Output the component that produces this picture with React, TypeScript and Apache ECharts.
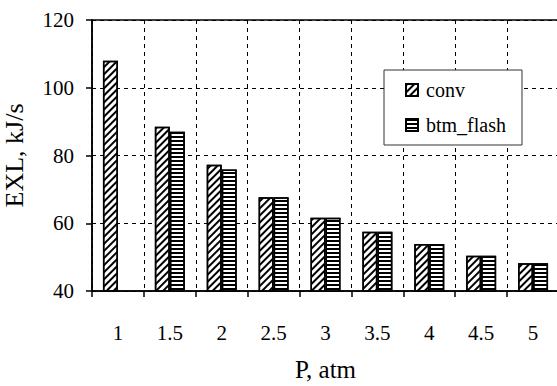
import React, { useEffect, useRef } from "react";
import * as echarts from "echarts";

const categories = ["1", "1.5", "2", "2.5", "3", "3.5", "4", "4.5", "5"];
const convValues = [108, 88.5, 77.3, 67.7, 61.6, 57.5, 53.9, 50.4, 48.2];
const btmFlashValues = [null, 87, 75.9, 67.7, 61.6, 57.5, 53.9, 50.4, 48.2];
const yTicks = { min: 40, max: 120, interval: 20 };

const FONT = "Liberation Serif, serif";

export default function App() {
  const ref = useRef<HTMLDivElement>(null);
  useEffect(() => {
    if (!ref.current) return;
    const chart = echarts.init(ref.current, undefined, { renderer: "svg" });
    const dashed = { show: true, lineStyle: { color: "#000", type: [4, 4] as any, width: 1 } };
    const lbl = { fontFamily: FONT, fontSize: 21, color: "#000" };
    chart.setOption({
      animation: false,
      backgroundColor: "#fff",
      textStyle: { fontFamily: FONT, color: "#000" },
      grid: {
        left: 92,
        top: 20,
        right: -2,
        bottom: 95,
        show: true,
        borderColor: "#000",
        borderWidth: 1.5,
        containLabel: false,
        outerBoundsMode: "none",
      },
      legend: {
        orient: "vertical",
        left: 384,
        top: 70,
        width: 137,
        height: 75,
        padding: [10, 16, 10, 21],
        itemGap: 15,
        itemWidth: 12,
        itemHeight: 12,
        borderColor: "#333",
        borderWidth: 1,
        backgroundColor: "#fff",
        icon: "rect",
        textStyle: { fontFamily: FONT, fontSize: 20, color: "#000", padding: [0, 0, 0, 3] },
        data: ["conv", "btm_flash"],
      },
      xAxis: {
        type: "category",
        data: categories,
        axisLine: { show: true, lineStyle: { color: "#000", width: 1.5 } },
        axisTick: { show: true, length: 6, alignWithLabel: false, lineStyle: { color: "#000", width: 1.5 } },
        axisLabel: { ...lbl, margin: 31 },
        splitLine: dashed,
        name: "P, atm",
        nameLocation: "middle",
        nameGap: 66,
        nameTextStyle: { fontFamily: FONT, fontSize: 25, color: "#000" },
      },
      yAxis: {
        type: "value",
        min: yTicks.min,
        max: yTicks.max,
        interval: yTicks.interval,
        axisLine: { show: true, lineStyle: { color: "#000", width: 1.5 } },
        axisTick: { show: true, length: 6, lineStyle: { color: "#000", width: 1.5 } },
        axisLabel: { ...lbl, margin: 18 },
        splitLine: dashed,
        name: "EXL, kJ/s",
        nameLocation: "middle",
        nameGap: 65,
        nameRotate: 90,
        nameTextStyle: { fontFamily: FONT, fontSize: 26, color: "#000" },
      },
      series: [
        {
          name: "conv",
          type: "bar",
          data: convValues,
          barWidth: 15,
          barGap: "0%",
          itemStyle: {
            color: "#fff",
            borderColor: "#000",
            borderWidth: 1.5,
            decal: {
              symbol: "rect",
              symbolSize: 1,
              color: "#000",
              dashArrayX: [1, 0],
              dashArrayY: [1.5, 2.5],
              rotation: -Math.PI / 4,
            },
          },
        },
        {
          name: "btm_flash",
          type: "bar",
          data: btmFlashValues,
          barWidth: 15,
          itemStyle: {
            color: "#fff",
            borderColor: "#000",
            borderWidth: 1.5,
            decal: {
              symbol: "rect",
              symbolSize: 1,
              color: "#000",
              dashArrayX: [1, 0],
              dashArrayY: [1.5, 1.5],
              rotation: 0,
            },
          },
        },
      ],
    });
    return () => chart.dispose();
  }, []);
  return (
    <div
      ref={ref}
      style={{ position: "absolute", left: 0, top: 0, width: 557, height: 386 }}
    />
  );
}
